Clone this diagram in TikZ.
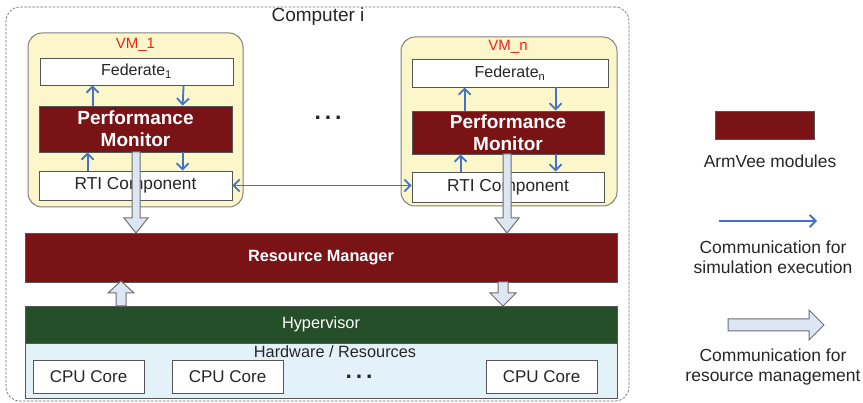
\documentclass[tikz,border=0pt]{standalone}
\usepackage{fontspec}
\setmainfont{Liberation Sans}
\usetikzlibrary{arrows.meta,calc}
\definecolor{armred}{HTML}{7A1316}
\definecolor{hypgreen}{HTML}{244F28}
\definecolor{hwfill}{HTML}{E3F2F8}
\definecolor{vmfill}{HTML}{FBF7CA}
\definecolor{vmline}{HTML}{7F7F7F}
\definecolor{boxc}{HTML}{555555}
\definecolor{txtc}{HTML}{262626}
\definecolor{bluec}{HTML}{4472C4}
\definecolor{gfill}{HTML}{DDE7F3}
\definecolor{gline}{HTML}{6E6E6E}
\definecolor{vmred}{HTML}{EE2222}
\newcommand\myGdown[6]{\draw[garrow] (#1-#4,#2) -- (#1+#4,#2) -- (#1+#4,#3-#6) -- (#1+#5,#3-#6) -- (#1,#3) -- (#1-#5,#3-#6) -- (#1-#4,#3-#6) -- cycle;}
\newcommand\myGup[6]{\draw[garrow] (#1-#4,#2) -- (#1+#4,#2) -- (#1+#4,#3+#6) -- (#1+#5,#3+#6) -- (#1,#3) -- (#1-#5,#3+#6) -- (#1-#4,#3+#6) -- cycle;}
\tikzset{
  txt/.style={text=txtc, inner sep=0pt},
  wbox/.style={draw=boxc, line width=0.8pt, fill=white, inner sep=0pt, text=txtc},
  redbox/.style={draw=boxc, line width=0.8pt, fill=armred, text=white, inner sep=0pt},
  vmbox/.style={draw=vmline, fill=vmfill, rounded corners=14pt, line width=1pt, inner sep=0pt},
  sarrow/.style={draw=bluec, line width=1.8pt, -{Straight Barb[length=6pt,width=12pt]}},
  darrow/.style={draw=bluec, line width=1.8pt, {Straight Barb[length=6pt,width=12pt]}-{Straight Barb[length=6pt,width=12pt]}},
  garrow/.style={draw=gline, fill=gfill, line width=1pt},
  fs/.style={font=\fontsize{#1}{20}\selectfont},
}
\begin{document}
\begin{tikzpicture}[x=1pt,y=-1pt]
\useasboundingbox (0,0) rectangle (863,403);
% outer computer box
\node[draw=gline, line width=0.7pt, dash pattern=on 2.5pt off 1.5pt, rounded corners=14pt, minimum width=623pt, minimum height=394pt, inner sep=0pt] (comp) at (317.5,204) {};
\node[txt, fs=19] (ctitle) at (318,17) {Computer i};
% VMs
\node[vmbox, minimum width=215pt, minimum height=174pt] (vm1) at (135.5,120) {};
\node[vmbox, minimum width=216pt, minimum height=169pt] (vmn) at (509,121.5) {};
\node[inner sep=0pt, text=vmred, fs=15] (vm1l) at (135.5,45) {VM\_1};
\node[inner sep=0pt, text=vmred, fs=15] (vmnl) at (508,47) {VM\_n};
% inner boxes
\node[wbox, minimum width=193pt, minimum height=27pt, fs=16] (fed1) at (136.5,71.5) {Federate\textsubscript{1}};
\node[wbox, minimum width=196pt, minimum height=28pt, fs=16] (fedn) at (510,73) {Federate\textsubscript{n}};
\node[redbox, minimum width=193pt, minimum height=46pt, align=center, font=\fontsize{19}{22}\selectfont\bfseries] (pm1) at (135.5,129) {Performance\\Monitor};
\node[redbox, minimum width=192pt, minimum height=43pt, align=center, font=\fontsize{19}{22}\selectfont\bfseries] (pmn) at (508,132.5) {Performance\\Monitor};
\node[wbox, minimum width=193pt, minimum height=29pt, fs=17.3] (rti1) at (135.5,185.5) {RTI Component};
\node[wbox, minimum width=192pt, minimum height=30pt, fs=17.3] (rtin) at (508,187) {RTI Component};
% blue arrows in VMs
\draw[sarrow] ([xshift=54pt]pm1.north west) -- ([xshift=54pt]pm1.north west |- fed1.south);
\draw[sarrow] ([xshift=144pt]fed1.south west |- fed1.south) -- ([xshift=144pt]pm1.north west);
\draw[sarrow] ([xshift=49pt]rti1.north west) -- ([xshift=49pt]rti1.north west |- pm1.south);
\draw[sarrow] ([xshift=144pt]pm1.south west) -- ([xshift=144pt]rti1.north west);
\draw[sarrow] ([xshift=53pt]pmn.north west) -- ([xshift=53pt]pmn.north west |- fedn.south);
\draw[sarrow] ([xshift=144pt]pmn.north west |- fedn.south) -- ([xshift=144pt]pmn.north west);
\draw[sarrow] ([xshift=49pt]rtin.north west) -- ([xshift=49pt]rtin.north west |- pmn.south);
\draw[sarrow] ([xshift=144pt]pmn.south west) -- ([xshift=144pt]rtin.north west);
\draw[darrow] (rti1.east) -- (rti1.east -| rtin.west);
% dots
\node[txt, font=\fontsize{23}{26}\selectfont\bfseries] (dots1) at (328,118) {.\,.\,.};
% lower layers
\node[redbox, minimum width=592pt, minimum height=49pt, font=\fontsize{16.3}{19}\selectfont\bfseries] (rm) at (321,257.5) {Resource Manager};
\node[draw=boxc, line width=0.8pt, fill=hwfill, minimum width=592pt, minimum height=55pt, inner sep=0pt] (hw) at (321,370.5) {};
\node[draw=boxc, line width=0.8pt, fill=hypgreen, text=white, minimum width=592pt, minimum height=37pt, inner sep=0pt, fs=16.3] (hyp) at (321,324.5) {Hypervisor};
\node[txt, fs=16.3] (hwl) at (335,352) {Hardware / Resources};
\node[wbox, minimum width=111pt, minimum height=33pt, fs=17] (cpu1) at (88.5,377) {CPU Core};
\node[wbox, minimum width=111pt, minimum height=33pt, fs=17] (cpu2) at (227.5,377) {CPU Core};
\node[wbox, minimum width=111pt, minimum height=33pt, fs=17] (cpu3) at (541.5,377) {CPU Core};
\node[txt, font=\fontsize{23}{26}\selectfont\bfseries] (dots2) at (359,377) {.\,.\,.};
% gray block arrows
\myGdown{136}{152}{233}{4}{12}{15}
\myGdown{507}{154}{233}{4}{12}{15}
\myGup{121}{306}{281}{5}{13}{12}
\myGdown{503}{282}{306}{5}{13}{13}
% legend
\node[redbox, minimum width=99pt, minimum height=28pt] (legred) at (764.5,125) {};
\node[txt, fs=17.4] (legredl) at (770,161) {ArmVee modules};
\coordinate (lb1) at (719,221);
\coordinate (lb2) at (817,221);
\draw[sarrow] (lb1) -- (lb2);
\node[txt, align=center, font=\fontsize{17.5}{20}\selectfont] (legbl) at (773,257) {Communication for\\simulation execution};
\draw[garrow] (728,319) -- (809,319) -- (809,310) -- (824,325) -- (809,340) -- (809,331) -- (728,331) -- cycle;
\node[txt, align=center, font=\fontsize{17.5}{20}\selectfont] (leggl) at (773,367) {Communication for\\resource management};
\end{tikzpicture}
\end{document}
